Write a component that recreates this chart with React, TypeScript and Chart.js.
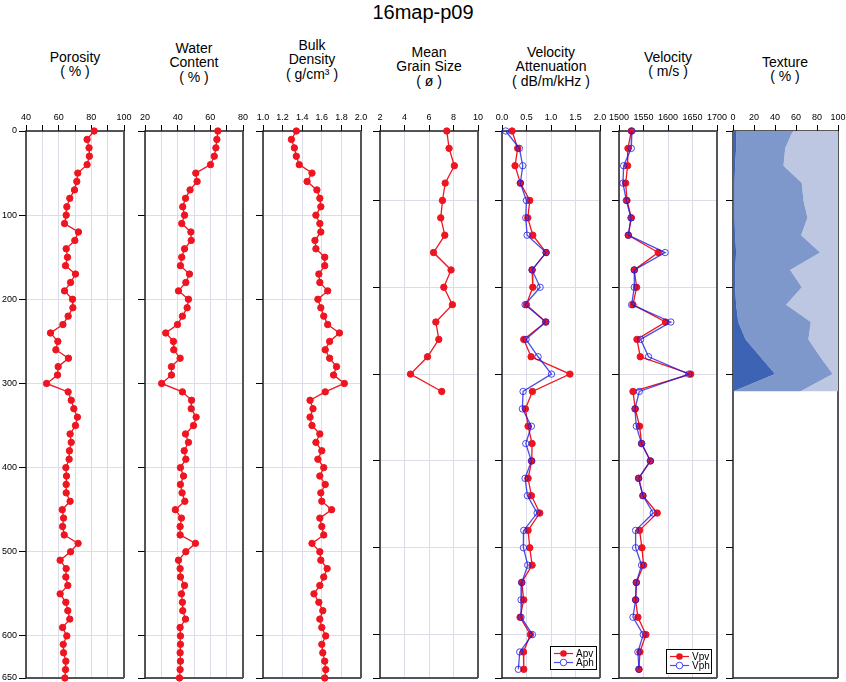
import React, { useEffect, useRef } from 'react';
import { Chart, registerables } from 'chart.js';

Chart.register(...registerables);

const FONT = '"Liberation Sans", Arial, Helvetica, sans-serif';
const PLOT_TOP = 131;
const PLOT_BOTTOM = 678;
const CANVAS_TOP = 100;
const X_AXIS_H = PLOT_TOP - CANVAS_TOP;
const PAD_RIGHT = 14;
const PAD_BOTTOM = 20;

// ---------------- data ----------------
const depth10 = [0, 10, 20, 30, 40, 50, 60, 70, 80, 90, 100, 110, 120, 130, 140, 150, 160, 170, 180, 190, 200, 210, 220, 230, 240, 250, 260, 270, 280, 290, 300, 310, 320, 330, 340, 350, 360, 370, 380, 390, 400, 410, 420, 430, 440, 450, 460, 470, 480, 490, 500, 510, 520, 530, 540, 550, 560, 570, 580, 590, 600, 610, 620, 630, 640, 650];

const porosity = [81.7, 77.4, 78.6, 78.8, 77.4, 71.7, 71.1, 69.7, 66.8, 65.0, 64.6, 63.6, 72.1, 69.9, 64.6, 65.4, 64.2, 70.3, 67.3, 63.6, 68.5, 68.7, 65.8, 62.6, 55.0, 59.5, 58.3, 66.0, 59.7, 59.3, 52.6, 65.8, 67.7, 69.3, 71.5, 70.3, 67.0, 67.7, 66.6, 66.4, 64.4, 64.8, 64.6, 64.6, 67.0, 62.2, 63.0, 62.4, 63.4, 71.9, 67.3, 60.9, 64.6, 64.4, 65.6, 60.9, 64.4, 65.6, 66.8, 62.4, 65.0, 62.8, 63.0, 64.4, 64.2, 63.8];

const waterContent = [64.6, 64.0, 63.4, 62.4, 60.1, 51.1, 51.9, 47.6, 44.8, 43.1, 44.2, 42.5, 48.1, 48.3, 44.2, 42.5, 41.7, 47.2, 45.0, 40.5, 46.6, 45.8, 42.9, 39.9, 32.7, 37.4, 37.6, 41.5, 36.2, 36.2, 30.2, 42.9, 48.5, 48.3, 51.3, 49.7, 44.8, 46.6, 44.0, 45.0, 41.7, 43.6, 41.7, 42.7, 44.4, 38.6, 42.3, 41.5, 41.5, 50.9, 45.0, 40.5, 41.5, 41.7, 44.2, 42.3, 42.9, 43.1, 44.8, 41.5, 41.7, 41.7, 41.5, 41.7, 41.5, 41.1];

const bulkDensity = [1.34, 1.29, 1.32, 1.34, 1.37, 1.50, 1.45, 1.55, 1.58, 1.59, 1.54, 1.58, 1.59, 1.53, 1.54, 1.63, 1.63, 1.57, 1.58, 1.66, 1.56, 1.59, 1.62, 1.66, 1.78, 1.68, 1.635, 1.68, 1.75, 1.72, 1.83, 1.635, 1.48, 1.51, 1.48, 1.50, 1.58, 1.54, 1.60, 1.56, 1.62, 1.58, 1.635, 1.59, 1.60, 1.70, 1.58, 1.60, 1.62, 1.50, 1.58, 1.59, 1.655, 1.62, 1.58, 1.52, 1.57, 1.61, 1.58, 1.60, 1.64, 1.60, 1.61, 1.63, 1.64, 1.63];

const grainDepth = [20, 40, 60, 80, 100, 120, 140, 160, 180, 200, 220, 240, 260, 280, 300, 320];
const meanGrainSize = [7.45, 7.64, 8.07, 7.32, 7.10, 6.96, 7.29, 6.37, 7.80, 7.21, 7.91, 6.56, 6.80, 5.88, 4.49, 7.04];

const velDepth = [20, 40, 60, 80, 100, 120, 140, 160, 180, 200, 220, 240, 260, 280, 300, 320, 340, 360, 380, 400, 420, 440, 460, 480, 500, 520, 540, 560, 580, 600, 620, 640];
const apv = [0.205, 0.32, 0.266, 0.375, 0.567, 0.526, 0.628, 0.90, 0.614, 0.628, 0.498, 0.894, 0.444, 0.594, 1.386, 0.621, 0.478, 0.532, 0.614, 0.608, 0.532, 0.60, 0.771, 0.532, 0.567, 0.614, 0.403, 0.444, 0.369, 0.58, 0.437, 0.444];
const aph = [0.075, 0.355, 0.423, 0.375, 0.498, 0.485, 0.512, 0.90, 0.614, 0.778, 0.471, 0.894, 0.491, 0.737, 1.01, 0.43, 0.416, 0.60, 0.485, 0.60, 0.471, 0.519, 0.717, 0.444, 0.437, 0.526, 0.403, 0.389, 0.389, 0.621, 0.362, 0.334];
const vpv = [1525.1, 1518.3, 1517.6, 1513.6, 1516.3, 1525.1, 1519.0, 1580.0, 1531.2, 1535.9, 1528.5, 1594.9, 1536.6, 1543.4, 1646.4, 1528.5, 1533.2, 1542.0, 1546.1, 1564.4, 1540.0, 1548.8, 1578.0, 1542.0, 1546.8, 1550.2, 1535.3, 1533.9, 1538.6, 1554.9, 1542.7, 1540.7];
const vph = [1526.4, 1525.1, 1509.5, 1508.1, 1514.9, 1524.4, 1519.0, 1594.2, 1531.2, 1531.2, 1525.8, 1605.8, 1544.1, 1560.3, 1642.4, 1541.4, 1532.5, 1535.3, 1546.1, 1563.7, 1540.0, 1548.8, 1569.8, 1533.9, 1533.9, 1546.1, 1535.3, 1533.9, 1528.5, 1549.5, 1538.6, 1540.7];

const textureDepth = [20, 40, 60, 80, 100, 120, 140, 160, 180, 200, 220, 240, 260, 280, 300, 320];
const sandPct = [3, 3, 2, 1.5, 1.5, 1.5, 2, 3, 2, 2, 3, 5, 12, 26, 40, 0];
const siltPct = [54, 46.7, 46.1, 64, 65.6, 69.4, 62.9, 79.9, 52.4, 63.5, 47.6, 69.1, 59.8, 56.9, 54.9, 63.9];
const clayPct = [43, 50.3, 51.9, 34.5, 32.9, 29.1, 35.1, 17.1, 45.6, 34.5, 49.4, 25.9, 28.2, 17.1, 5.1, 36.1];

const ticks10 = [0, 100, 200, 300, 400, 500, 600, 650];
const ticks20 = [20, 100, 200, 300, 400, 500, 600, 650];

// ---------------- styles ----------------
const RED = '#ee1520';
const BLUE = 'rgba(25,25,225,0.78)';
const GRID = '#dcdde9';
const DARK = '#3d64b4';
const MED = '#7e98cb';
const LIGHT = '#bdc7e2';

const framePlugin = {
  id: 'frame',
  beforeDatasetsDraw(chart: any) {
    const { ctx, chartArea: a } = chart;
    ctx.save();
    ctx.strokeStyle = '#222';
    ctx.lineWidth = 1.5;
    ctx.beginPath();
    ctx.moveTo(a.right, a.top);
    ctx.lineTo(a.left, a.top);
    ctx.lineTo(a.left, a.bottom);
    ctx.lineTo(a.right, a.bottom);
    ctx.stroke();
    ctx.strokeStyle = '#555';
    ctx.lineWidth = 2;
    ctx.beginPath();
    ctx.moveTo(a.right, a.top);
    ctx.lineTo(a.right, a.bottom);
    ctx.stroke();
    ctx.restore();
  },
};

const boxLegendPlugin = {
  id: 'boxLegend',
  afterDatasetsDraw(chart: any, _args: any, opts: any) {
    if (!opts || !opts.show) return;
    const { ctx, chartArea: a } = chart;
    const w = opts.width;
    const h = opts.height;
    const x0 = Math.round(a.right - opts.right - w);
    const y0 = Math.round(a.bottom - opts.bottom - h);
    ctx.save();
    ctx.fillStyle = '#fff';
    ctx.fillRect(x0, y0, w, h);
    ctx.strokeStyle = '#000';
    ctx.lineWidth = 1;
    ctx.strokeRect(x0 + 0.5, y0 + 0.5, w, h);
    chart.data.datasets.forEach((ds: any, i: number) => {
      const cy = y0 + 7.5 + i * 9;
      ctx.strokeStyle = ds.borderColor;
      ctx.lineWidth = 1.2;
      ctx.beginPath();
      ctx.moveTo(x0 + 4, cy);
      ctx.lineTo(x0 + 23, cy);
      ctx.stroke();
      ctx.beginPath();
      ctx.arc(x0 + 13.5, cy, 3.3, 0, Math.PI * 2);
      if (ds.open) {
        ctx.fillStyle = '#fff';
        ctx.fill();
        ctx.lineWidth = 1;
        ctx.stroke();
      } else {
        ctx.fillStyle = ds.borderColor;
        ctx.fill();
      }
      ctx.fillStyle = '#000';
      ctx.font = `10px ${FONT}`;
      ctx.textBaseline = 'middle';
      ctx.textAlign = 'left';
      ctx.fillText(ds.label, x0 + 26, cy + 0.5);
    });
    ctx.restore();
  },
};

type LineSeries = { label: string; xs: number[]; ys: number[]; color: string; open?: boolean; order?: number };
type AreaSeries = { label: string; xs: number[]; ys: number[]; color: string; fill: any };
type PanelDef = {
  key: string;
  left: number;
  right: number;
  yAxisW: number;
  xTicks: number[];
  xLabel: (v: number) => string;
  yMin: number;
  yMax: number;
  yTicks: number[];
  yLabels: boolean;
  grid: boolean;
  lines?: LineSeries[];
  areas?: AreaSeries[];
  legend?: { width: number; height: number; right: number; bottom: number };
};

const every20 = (v: number) => (Math.round(v) % 20 === 0 ? String(v) : '');

const panels: PanelDef[] = [
  {
    key: 'porosity', left: 26, right: 124, yAxisW: 26,
    xTicks: [40, 50, 60, 70, 80, 90, 100], xLabel: every20,
    yMin: 0, yMax: 650, yTicks: ticks10, yLabels: true, grid: true,
    lines: [{ label: 'Porosity', xs: porosity, ys: depth10, color: RED }],
  },
  {
    key: 'water', left: 145, right: 243, yAxisW: 14,
    xTicks: [20, 30, 40, 50, 60, 70, 80], xLabel: every20,
    yMin: 0, yMax: 650, yTicks: ticks10, yLabels: false, grid: true,
    lines: [{ label: 'Water Content', xs: waterContent, ys: depth10, color: RED }],
  },
  {
    key: 'density', left: 263, right: 361, yAxisW: 14,
    xTicks: [1.0, 1.2, 1.4, 1.6, 1.8, 2.0], xLabel: (v) => v.toFixed(1),
    yMin: 0, yMax: 650, yTicks: ticks10, yLabels: false, grid: true,
    lines: [{ label: 'Bulk Density', xs: bulkDensity, ys: depth10, color: RED }],
  },
  {
    key: 'grain', left: 380, right: 478, yAxisW: 14,
    xTicks: [2, 4, 6, 8, 10], xLabel: (v) => String(v),
    yMin: 20, yMax: 650, yTicks: ticks20, yLabels: false, grid: true,
    lines: [{ label: 'Mean Grain Size', xs: meanGrainSize, ys: grainDepth, color: RED }],
  },
  {
    key: 'atten', left: 502, right: 600, yAxisW: 14,
    xTicks: [0, 0.5, 1.0, 1.5, 2.0], xLabel: (v) => v.toFixed(1),
    yMin: 20, yMax: 650, yTicks: ticks20, yLabels: false, grid: true,
    lines: [
      { label: 'Apv', xs: apv, ys: velDepth, color: RED, order: 1 },
      { label: 'Aph', xs: aph, ys: velDepth, color: BLUE, open: true, order: 0 },
    ],
    legend: { width: 46, height: 23, right: 4, bottom: 9 },
  },
  {
    key: 'vel', left: 619, right: 717, yAxisW: 14,
    xTicks: [1500, 1550, 1600, 1650, 1700], xLabel: (v) => String(v),
    yMin: 20, yMax: 650, yTicks: ticks20, yLabels: false, grid: true,
    lines: [
      { label: 'Vpv', xs: vpv, ys: velDepth, color: RED, order: 1 },
      { label: 'Vph', xs: vph, ys: velDepth, color: BLUE, open: true, order: 0 },
    ],
    legend: { width: 45, height: 24, right: 6, bottom: 5 },
  },
  {
    key: 'texture', left: 733, right: 838, yAxisW: 14,
    xTicks: [0, 20, 40, 60, 80, 100], xLabel: (v) => String(v),
    yMin: 20, yMax: 650, yTicks: ticks20, yLabels: false, grid: false,
    areas: [
      { label: 'Sand', xs: sandPct, ys: textureDepth, color: DARK, fill: 'origin' },
      { label: 'Silt', xs: sandPct.map((s, i) => s + siltPct[i]), ys: textureDepth, color: MED, fill: '-1' },
      { label: 'Clay', xs: sandPct.map((s, i) => s + siltPct[i] + clayPct[i]), ys: textureDepth, color: LIGHT, fill: '-1' },
    ],
  },
];

const titles = [
  { cx: 75, y: 57, lines: ['Porosity', '( % )'] },
  { cx: 194, y: 48, lines: ['Water', 'Content', '( % )'] },
  { cx: 312, y: 45, lines: ['Bulk', 'Density', '( g/cm³ )'] },
  { cx: 429, y: 52, lines: ['Mean', 'Grain Size', '( ø )'] },
  { cx: 551, y: 52, lines: ['Velocity', 'Attenuation', '( dB/m/kHz )'] },
  { cx: 668, y: 57, lines: ['Velocity', '( m/s )'] },
  { cx: 785, y: 62, lines: ['Texture', '( % )'] },
];

function buildConfig(def: PanelDef): any {
  const datasets: any[] = [];
  (def.lines || []).forEach((s) => {
    datasets.push({
      label: s.label,
      data: s.xs.map((x, i) => ({ x, y: s.ys[i] })),
      borderColor: s.color,
      backgroundColor: s.open ? 'rgba(255,255,255,0)' : s.color,
      pointBackgroundColor: s.open ? 'rgba(255,255,255,0)' : s.color,
      pointBorderColor: s.color,
      pointRadius: 3.2,
      pointBorderWidth: 1,
      borderWidth: 1.3,
      fill: false,
      tension: 0,
      clip: false,
      order: s.order ?? 0,
      open: !!s.open,
    });
  });
  (def.areas || []).forEach((s) => {
    datasets.push({
      label: s.label,
      data: s.xs.map((x, i) => ({ x, y: s.ys[i] })),
      borderColor: 'rgba(0,0,0,0)',
      borderWidth: 0,
      backgroundColor: s.color,
      pointRadius: 0,
      fill: s.fill,
      tension: 0,
    });
  });

  const tickFont = { size: 9, family: FONT };
  return {
    type: 'line',
    data: { datasets },
    plugins: [framePlugin, boxLegendPlugin],
    options: {
      responsive: false,
      animation: false,
      devicePixelRatio: 1,
      indexAxis: 'y',
      layout: { padding: { left: 0, top: 0, right: PAD_RIGHT, bottom: PAD_BOTTOM } },
      plugins: {
        legend: { display: false },
        tooltip: { enabled: false },
        title: { display: false },
        boxLegend: def.legend ? { show: true, ...def.legend } : { show: false },
      },
      scales: {
        x: {
          type: 'linear',
          position: 'top',
          min: def.xTicks[0],
          max: def.xTicks[def.xTicks.length - 1],
          afterBuildTicks: (s: any) => {
            s.ticks = def.xTicks.map((v) => ({ value: v }));
          },
          afterFit: (s: any) => {
            s.height = X_AXIS_H;
          },
          border: { display: false },
          grid: {
            color: GRID,
            lineWidth: 1,
            drawOnChartArea: def.grid,
            tickColor: '#000',
            tickLength: 6,
            tickWidth: 1,
          },
          ticks: {
            autoSkip: false,
            maxRotation: 0,
            minRotation: 0,
            padding: 2,
            color: '#000',
            font: tickFont,
            callback: (v: any) => def.xLabel(Number(v)),
          },
        },
        y: {
          type: 'linear',
          reverse: true,
          min: def.yMin,
          max: def.yMax,
          afterBuildTicks: (s: any) => {
            s.ticks = def.yTicks.map((v) => ({ value: v }));
          },
          afterFit: (s: any) => {
            s.width = def.yAxisW;
          },
          border: { display: false },
          grid: {
            color: GRID,
            lineWidth: 1,
            drawOnChartArea: def.grid,
            tickColor: '#000',
            tickLength: 7,
            tickWidth: 1,
          },
          ticks: {
            display: def.yLabels,
            autoSkip: false,
            padding: 2,
            color: '#000',
            font: tickFont,
            callback: (v: any) => String(v),
          },
        },
      },
    },
  };
}

function Panel({ def }: { def: PanelDef }) {
  const ref = useRef<HTMLCanvasElement | null>(null);
  const width = def.yAxisW + (def.right - def.left) + PAD_RIGHT;
  const height = X_AXIS_H + (PLOT_BOTTOM - PLOT_TOP) + PAD_BOTTOM;
  useEffect(() => {
    if (!ref.current) return;
    const chart = new Chart(ref.current, buildConfig(def));
    return () => chart.destroy();
  }, [def]);
  return (
    <canvas
      ref={ref}
      width={width}
      height={height}
      style={{ position: 'absolute', left: def.left - def.yAxisW, top: CANVAS_TOP, width, height }}
    />
  );
}

const TITLE_LH = 14.5;

export default function App() {
  return (
    <div
      style={{
        position: 'absolute',
        left: 0,
        top: 0,
        width: 846,
        height: 682,
        overflow: 'hidden',
        background: '#fff',
        fontFamily: FONT,
        color: '#000',
      }}
    >
      <div
        style={{
          position: 'absolute',
          left: 0,
          width: 846,
          top: 0,
          height: 24,
          lineHeight: '24px',
          textAlign: 'center',
          fontSize: 20,
        }}
      >
        <span style={{ position: 'relative', left: 0 }}>16map-p09</span>
      </div>
      {titles.map((t, i) => (
        <div
          key={i}
          style={{
            position: 'absolute',
            left: t.cx - 70,
            width: 140,
            top: t.y - TITLE_LH / 2,
            textAlign: 'center',
            fontSize: 14,
            lineHeight: `${TITLE_LH}px`,
            whiteSpace: 'nowrap',
          }}
        >
          {t.lines.map((l, j) => (
            <div key={j}>{l}</div>
          ))}
        </div>
      ))}
      {panels.map((p) => (
        <Panel key={p.key} def={p} />
      ))}
    </div>
  );
}
